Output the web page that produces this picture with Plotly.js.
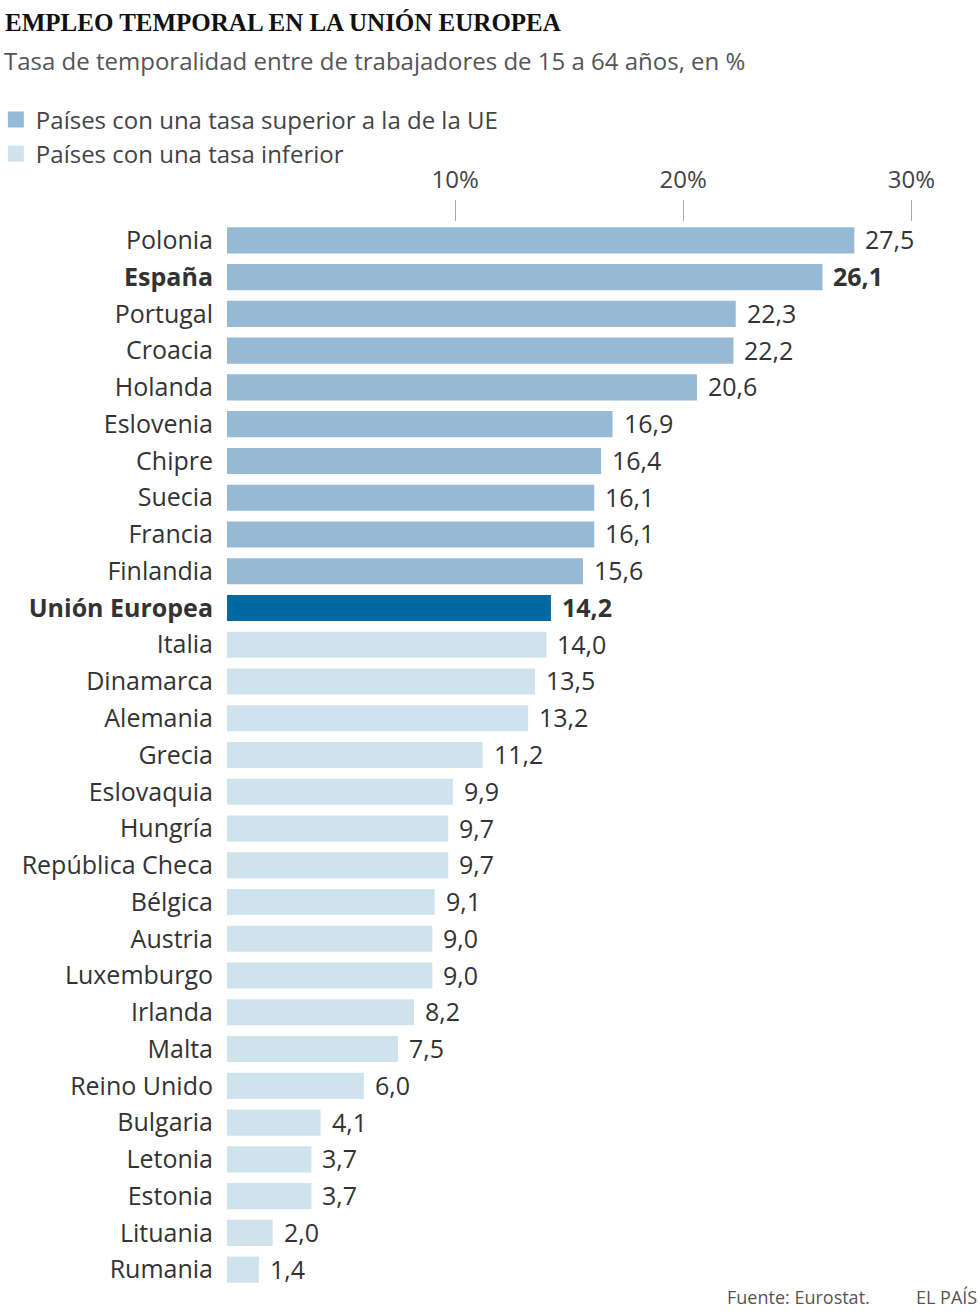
<!DOCTYPE html>
<html><head><meta charset="utf-8">
<script src="https://cdn.plot.ly/plotly-3.0.1.min.js"></script>
<style>html,body{margin:0;padding:0;background:#fff}#chart{width:980px;height:1312px}</style>
</head><body><div id="chart"></div>
<script>
// ---- data ----
const countries = ["Polonia","España","Portugal","Croacia","Holanda","Eslovenia","Chipre","Suecia","Francia","Finlandia","Unión Europea","Italia","Dinamarca","Alemania","Grecia","Eslovaquia","Hungría","República Checa","Bélgica","Austria","Luxemburgo","Irlanda","Malta","Reino Unido","Bulgaria","Letonia","Estonia","Lituania","Rumania"];
const rates = [27.5,26.1,22.3,22.2,20.6,16.9,16.4,16.1,16.1,15.6,14.2,14.0,13.5,13.2,11.2,9.9,9.7,9.7,9.1,9.0,9.0,8.2,7.5,6.0,4.1,3.7,3.7,2.0,1.4];
const highlighted = ["España","Unión Europea"];
const euName = "Unión Europea";
const tickValues = [10,20,30];
const legendLabels = ["Países con una tasa superior a la de la UE","Países con una tasa inferior"];

// ---- style ----
const C_UP = "#96bad6", C_LOW = "#cfe3ec", C_EU = "#0069a1";
const W = 980, H = 1312;
const M = {l:227, r:23.4, t:221.6, b:23.6, autoexpand:false};
const FONT = "'Open Sans', Roboto, sans-serif";
const px = x => (x - M.l) / (W - M.l - M.r);
const py = y => (H - M.b - y) / (H - M.t - M.b);

const euVal = rates[countries.indexOf(euName)];
const colors = countries.map((c,i) => c === euName ? C_EU : (rates[i] > euVal ? C_UP : C_LOW));
const fmt = v => v.toFixed(1).replace(".", ",");
const ticktext = countries.map(c => highlighted.includes(c) ? "<b>" + c + "</b>" : c);

const traces = [
  {type:"bar", orientation:"h", x:rates, y:countries, marker:{color:colors},
   hoverinfo:"skip", showlegend:false},
  {type:"scatter", mode:"markers", x:[null], y:[null], name:legendLabels[0],
   marker:{symbol:"square", size:22, color:C_UP}},
  {type:"scatter", mode:"markers", x:[null], y:[null], name:legendLabels[1],
   marker:{symbol:"square", size:22, color:C_LOW}}
];

const valueLabels = countries.map((c,i) => ({
  x:rates[i], y:c, xref:"x", yref:"y", xanchor:"left", yanchor:"middle", xshift:9, yshift:1,
  text: highlighted.includes(c) ? "<b>" + fmt(rates[i]) + "</b>" : fmt(rates[i]),
  showarrow:false, font:{family:FONT, size:25, color:"#333"}
}));

const layout = {
  width:W, height:H, margin:M, paper_bgcolor:"#fff", plot_bgcolor:"#fff",
  bargap:0.29,
  font:{family:FONT, color:"#333"},
  title:{text:"<b>EMPLEO TEMPORAL EN LA UNIÓN EUROPEA</b>", xref:"container", yref:"container",
         x:5/W, xanchor:"left", y:1-22/H, yanchor:"middle", automargin:false,
         font:{family:"'Liberation Serif', serif", size:25, color:"#111"}},
  xaxis:{side:"top", range:[0,32], tickvals:tickValues, ticktext:tickValues.map(v=>v+"%"),
         ticks:"outside", ticklen:21, tickcolor:"#aaa", tickwidth:1, automargin:false,
         ticklabelstandoff:2,
         showgrid:false, zeroline:false, showline:false,
         tickfont:{family:FONT, size:24, color:"#444"}, fixedrange:true},
  yaxis:{type:"category", categoryorder:"array", categoryarray:countries,
         range:[countries.length-0.5, -0.5], tickvals:countries, ticktext:ticktext,
         ticks:"outside", ticklen:8, tickcolor:"rgba(0,0,0,0)", automargin:false,
         showgrid:false, zeroline:false, showline:false,
         tickfont:{family:FONT, size:25, color:"#333"}, fixedrange:true},
  legend:{xref:"paper", yref:"paper", x:px(-4), y:py(97), xanchor:"left", yanchor:"top",
          font:{family:FONT, size:24, color:"#444"}, bgcolor:"rgba(0,0,0,0)", itemwidth:30,
          tracegroupgap:0},
  annotations:[
    {text:"Tasa de temporalidad entre de trabajadores de 15 a 64 años, en %", xref:"paper", yref:"paper",
     x:px(2), y:py(60), xanchor:"left", yanchor:"middle", showarrow:false,
     font:{family:FONT, size:24, color:"#555"}},
    {text:"Fuente: Eurostat.", xref:"paper", yref:"paper", x:px(872), y:py(1297),
     xanchor:"right", yanchor:"middle", showarrow:false, font:{family:FONT, size:18, color:"#555"}},
    {text:"EL PAÍS", xref:"paper", yref:"paper", x:px(979), y:py(1297),
     xanchor:"right", yanchor:"middle", showarrow:false, font:{family:FONT, size:18, color:"#555"}}
  ].concat(valueLabels)
};
Plotly.newPlot("chart", traces, layout, {displayModeBar:false, staticPlot:true});
</script></body></html>
